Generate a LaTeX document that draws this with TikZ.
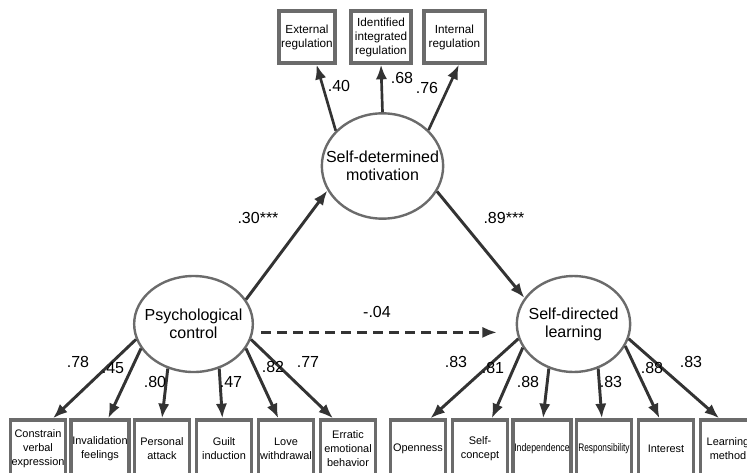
\documentclass[tikz,border=0pt]{standalone}
\usepackage{fontspec}
\setmainfont{Liberation Sans}
\usepackage{graphicx}
\usetikzlibrary{arrows.meta,shapes.geometric}

\begin{document}
\begin{tikzpicture}[x=0.75pt,y=-0.75pt,
    arrow/.style = {line width=2.2pt,draw=black!80,-{Latex[length=11pt,width=8.5pt]}},
    dasharrow/.style = {arrow,dash pattern=on 7.5pt off 4.5pt},
    latent/.style = {ellipse,draw=black!58,line width=1.8pt,fill=white,inner sep=0pt,
        minimum width=89pt,minimum height=72pt},
    obs/.style = {rectangle,draw=black!58,line width=2.5pt,fill=white,align=center,
        inner sep=1pt,minimum width=41pt,minimum height=43.5pt,
        font=\fontsize{8.2}{10.5}\selectfont},
    lbl/.style = {font=\fontsize{12}{14}\selectfont,inner sep=0pt},
    ltext/.style = {align=center,font=\fontsize{12}{13.5}\selectfont}]
    \useasboundingbox (0,0) rectangle (747,472);
    \clip (0,0) rectangle (747,472);

    % latent variables
    \node[latent,minimum width=91pt,minimum height=79pt,
        label={[ltext]center:Self-determined\\motivation}] (sdm) at (382.5,166) {};
    \node[latent,label={[ltext]center:Psychological\\control}] (pc) at (193.5,324) {};
    \node[latent,minimum width=85pt,label={[ltext]center:Self-directed\\learning}] (sdl) at (573.5,324) {};

    % indicators of motivation
    \node[obs,minimum width=42pt,minimum height=39pt,font=\fontsize{8.8}{10.5}\selectfont]
        (ext) at (307,37) {External\\regulation};
    \node[obs,minimum width=45pt,minimum height=39pt,font=\fontsize{8.8}{10.5}\selectfont]
        (idr) at (381,37) {Identified\\integrated\\regulation};
    \node[obs,minimum width=46pt,minimum height=39pt,font=\fontsize{8.8}{10.5}\selectfont]
        (inr) at (454.5,37) {Internal\\regulation};

    % indicators of psychological control
    \node[obs] (cve) at (38,449) {Constrain\\verbal\\expression};
    \node[obs] (ivf) at (100,449) {Invalidation\\feelings};
    \node[obs] (pat) at (162,449) {Personal\\attack};
    \node[obs] (gin) at (224,449) {Guilt\\induction};
    \node[obs] (lwd) at (286,449) {Love\\withdrawal};
    \node[obs] (eeb) at (348,449) {Erratic\\emotional\\behavior};

    % indicators of self-directed learning
    \node[obs] (opn) at (418,449) {Openness};
    \node[obs] (scp) at (480,449) {Self-\\concept};
    \node[obs] (idp) at (542,449) {\scalebox{0.8}[1]{Independence}};
    \node[obs] (rsp) at (604,449) {\scalebox{0.76}[1]{Responsibility}};
    \node[obs] (itr) at (666,449) {Interest};
    \node[obs] (lmt) at (728,449) {Learning\\method};

    % structural paths
    \draw[arrow] (pc.25) -- (sdm.204);
    \draw[arrow] (sdm.335) -- (sdl.152);
    \draw[dasharrow,shorten <=6pt,shorten >=14pt] (pc.352) -- (pc.352 -| sdl.west);
    \node[lbl] (b1) at (258,218) {.30***};
    \node[lbl] (b2) at (504,218) {.89***};
    \node[lbl] (b3) at (377,312) {-.04};

    % loadings, motivation
    \draw[arrow,line width=2pt] (sdm.143) -- (ext.289);
    \draw[arrow,line width=2pt] (sdm.90) -- (idr.270);
    \draw[arrow,line width=2pt] (sdm.38) -- (inr.279);
    \node[lbl] (l1) at (339,86) {.40};
    \node[lbl] (l2) at (402,78) {.68};
    \node[lbl] (l3) at (427,88) {.76};

    % loadings, psychological control
    \draw[arrow] (pc.195) -- (cve.64);
    \draw[arrow] (pc.205) -- (ivf.75);
    \draw[arrow] (pc.240) -- (pat.90);
    \draw[arrow] (pc.300) -- (gin.93);
    \draw[arrow] (pc.335) -- (lwd.104);
    \draw[arrow] (pc.345) -- (eeb.116);
    \node[lbl] (l4) at (78,362) {.78};
    \node[lbl] (l5) at (113,368) {.45};
    \node[lbl] (l6) at (155,382) {.80};
    \node[lbl] (l7) at (231,382) {.47};
    \node[lbl] (l8) at (273,367) {.82};
    \node[lbl] (l9) at (308,362) {.77};

    % loadings, self-directed learning
    \draw[arrow] (sdl.195) -- (opn.68);
    \draw[arrow] (sdl.205) -- (scp.69);
    \draw[arrow] (sdl.241) -- (idp.88);
    \draw[arrow] (sdl.299) -- (rsp.94);
    \draw[arrow] (sdl.337) -- (itr.102);
    \draw[arrow] (sdl.345) -- (lmt.106);
    \node[lbl] (l10) at (456,362) {.83};
    \node[lbl] (l11) at (493,368) {.81};
    \node[lbl] (l12) at (528,382) {.88};
    \node[lbl] (l13) at (611,382) {.83};
    \node[lbl] (l14) at (652,368) {.88};
    \node[lbl] (l15) at (691,362) {.83};
\end{tikzpicture}
\end{document}
